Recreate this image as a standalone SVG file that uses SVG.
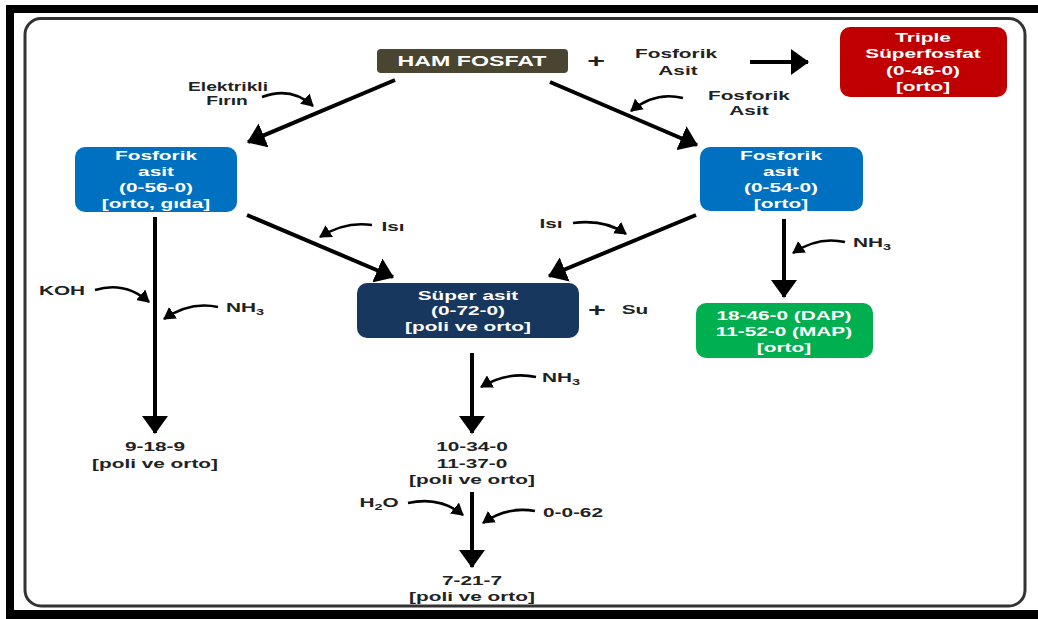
<svg xmlns="http://www.w3.org/2000/svg" width="1038" height="619" viewBox="0 0 1038 619">
<style>
.t{font-family:"Liberation Sans",Arial,sans-serif;font-weight:bold;font-size:13px;text-anchor:middle}
.w{fill:#ffffff}
.k{fill:#222222}
.ln{stroke:#000;stroke-width:4;fill:none}
.cv{stroke:#000;stroke-width:2.6;fill:none}
</style>
<defs>
<marker id="ah" viewBox="0 0 18 26" refX="17" refY="13" markerWidth="18" markerHeight="26" markerUnits="userSpaceOnUse" orient="auto">
<path d="M0,0 L18,13 L0,26 Z" fill="#000"/>
</marker>
<marker id="sh" viewBox="0 0 12 14" refX="11" refY="7" markerWidth="12" markerHeight="14" markerUnits="userSpaceOnUse" orient="auto">
<path d="M0,0 L12,7 L0,14 Z" fill="#000"/>
</marker>
</defs>
<rect width="1038" height="619" fill="#fff"/>
<g id="frame">
<rect x="6" y="5" width="1032" height="8" fill="#000"/>
<rect x="6" y="5" width="8" height="614" fill="#000"/>
<rect x="6" y="610" width="1032" height="9" fill="#000"/>
<rect x="25" y="18.5" width="1000" height="587.5" rx="16" fill="none" stroke="#333" stroke-width="3"/>
</g>
<g id="connectors">
<line class="ln" x1="395" y1="80" x2="248" y2="142" marker-end="url(#ah)"/>
<line class="ln" x1="550" y1="82" x2="697" y2="145" marker-end="url(#ah)"/>
<line class="ln" x1="750" y1="62" x2="808" y2="62" marker-end="url(#ah)"/>
<line class="ln" x1="155" y1="217" x2="155" y2="433" marker-end="url(#ah)"/>
<line class="ln" x1="247" y1="215" x2="393" y2="277" marker-end="url(#ah)"/>
<line class="ln" x1="696" y1="215" x2="549" y2="276" marker-end="url(#ah)"/>
<line class="ln" x1="784" y1="219" x2="784" y2="297" marker-end="url(#ah)"/>
<line class="ln" x1="472" y1="353" x2="472" y2="433" marker-end="url(#ah)"/>
<line class="ln" x1="472" y1="492" x2="472" y2="567" marker-end="url(#ah)"/>
<path class="cv" d="M262,97 Q291,86 313,106" marker-end="url(#sh)"/>
<path class="cv" d="M683,98 Q655,91 631,111" marker-end="url(#sh)"/>
<path class="cv" d="M372,225 Q345,221 320,237" marker-end="url(#sh)"/>
<path class="cv" d="M573,223 Q605,219 626,234" marker-end="url(#sh)"/>
<path class="cv" d="M95,290 Q125,281 149,302" marker-end="url(#sh)"/>
<path class="cv" d="M218,307 Q190,301 164,319" marker-end="url(#sh)"/>
<path class="cv" d="M845,242 Q818,236 793,253" marker-end="url(#sh)"/>
<path class="cv" d="M536,377 Q508,371 481,387" marker-end="url(#sh)"/>
<path class="cv" d="M408,503 Q440,496 463,515" marker-end="url(#sh)"/>
<path class="cv" d="M535,511 Q507,506 483,523" marker-end="url(#sh)"/>
</g>
<g id="ham-fosfat">
<rect x="377" y="49" width="191" height="24" rx="4" fill="#4a4530"/>
<g transform="scale(1.6 1)"><text class="t w" x="295" y="66" style="font-size:14.5px">HAM FOSFAT</text></g>
</g>
<g id="triple">
<rect x="840" y="27" width="167" height="70" rx="10" fill="#c00000"/>
<g transform="scale(1.6 1)">
<text class="t w" x="576.9" y="42">Triple</text>
<text class="t w" x="576.9" y="58.5">Süperfosfat</text>
<text class="t w" x="576.9" y="75">(0-46-0)</text>
<text class="t w" x="576.9" y="91.5">[orto]</text>
</g>
</g>
<g id="fosforik-left">
<rect x="75" y="147" width="162" height="65" rx="10" fill="#0070c0"/>
<g transform="scale(1.6 1)">
<text class="t w" x="97.5" y="160">Fosforik</text>
<text class="t w" x="97.5" y="176">asit</text>
<text class="t w" x="97.5" y="192">(0-56-0)</text>
<text class="t w" x="97.5" y="208">[orto, gıda]</text>
</g>
</g>
<g id="fosforik-right">
<rect x="700" y="147" width="163" height="64" rx="10" fill="#0070c0"/>
<g transform="scale(1.6 1)">
<text class="t w" x="488.1" y="160">Fosforik</text>
<text class="t w" x="488.1" y="176">asit</text>
<text class="t w" x="488.1" y="192">(0-54-0)</text>
<text class="t w" x="488.1" y="208">[orto]</text>
</g>
</g>
<g id="super-asit">
<rect x="357" y="283" width="222" height="55" rx="10" fill="#17375e"/>
<g transform="scale(1.6 1)">
<text class="t w" x="292.5" y="300">Süper asit</text>
<text class="t w" x="292.5" y="315.5">(0-72-0)</text>
<text class="t w" x="292.5" y="331">[poli ve orto]</text>
</g>
</g>
<g id="dap-map">
<rect x="696" y="303" width="177" height="55" rx="10" fill="#00b050"/>
<g transform="scale(1.6 1)">
<text class="t w" x="490" y="320">18-46-0 (DAP)</text>
<text class="t w" x="490" y="336">11-52-0 (MAP)</text>
<text class="t w" x="490" y="352">[orto]</text>
</g>
</g>
<g id="out-9-18-9">
<g transform="scale(1.6 1)">
<text class="t k" x="96.9" y="451">9-18-9</text>
<text class="t k" x="96.9" y="468">[poli ve orto]</text>
</g>
</g>
<g id="out-10-34-0">
<g transform="scale(1.6 1)">
<text class="t k" x="295" y="451">10-34-0</text>
<text class="t k" x="295" y="468">11-37-0</text>
<text class="t k" x="295" y="484">[poli ve orto]</text>
</g>
</g>
<g id="out-7-21-7">
<g transform="scale(1.6 1)">
<text class="t k" x="295" y="585">7-21-7</text>
<text class="t k" x="295" y="601">[poli ve orto]</text>
</g>
</g>
<g id="labels" transform="scale(1.6 1)">
<text class="t k" x="142.5" y="91" style="font-size:12px">Elektrikli</text>
<text class="t k" x="141.9" y="105" style="font-size:12px">Fırın</text>
<text class="t k" x="372.5" y="67" style="font-size:19px">+</text>
<text class="t k" x="422.5" y="58">Fosforik</text>
<text class="t k" x="423.75" y="75">Asit</text>
<text class="t k" x="468.1" y="100">Fosforik</text>
<text class="t k" x="468.1" y="115">Asit</text>
<text class="t k" x="245.6" y="231">Isı</text>
<text class="t k" x="344.4" y="228">Isı</text>
<text class="t k" x="38.75" y="295">KOH</text>
<text class="t k" x="153.1" y="312">NH<tspan dy="3" style="font-size:9px">3</tspan></text>
<text class="t k" x="545" y="247">NH<tspan dy="3" style="font-size:9px">3</tspan></text>
<text class="t k" x="350.6" y="382">NH<tspan dy="3" style="font-size:9px">3</tspan></text>
<text class="t k" x="373.1" y="316" style="font-size:19px">+</text>
<text class="t k" x="396.9" y="314">Su</text>
<text class="t k" x="236.9" y="507">H<tspan dy="3" style="font-size:9px">2</tspan><tspan dy="-3">O</tspan></text>
<text class="t k" x="358.1" y="517">0-0-62</text>
</g>
</svg>
